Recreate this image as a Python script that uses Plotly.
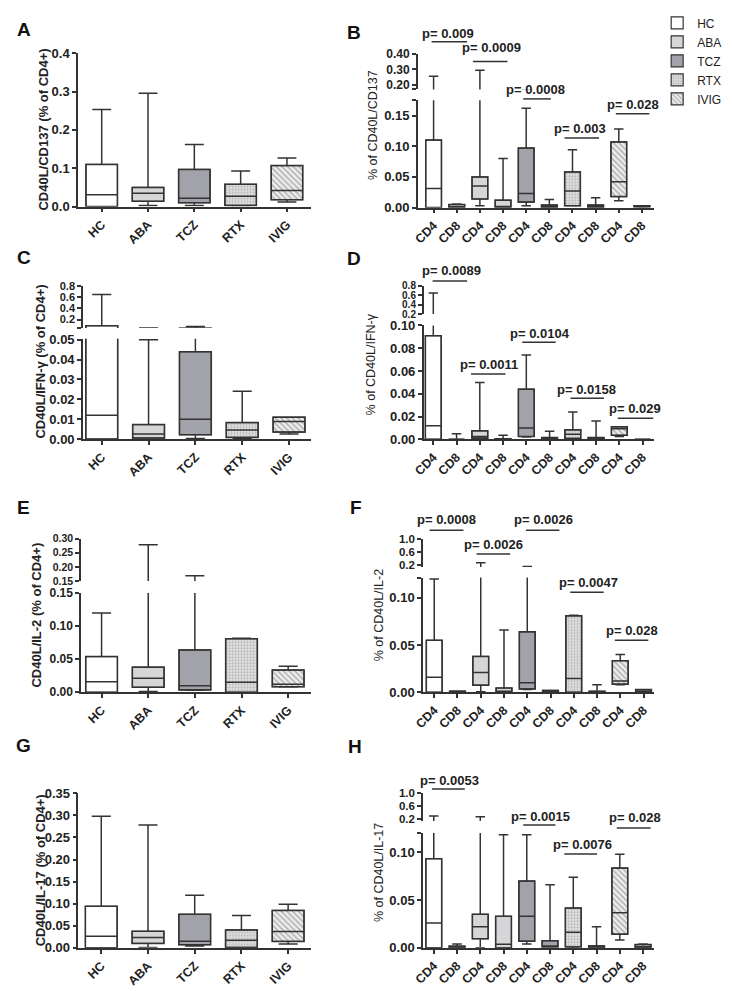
import plotly.graph_objects as go

# the page body keeps its default 8 px margin, so the figure is 8 px smaller
# than the window and every reference pixel is shifted by 8
W, H = 733, 991
OFF = 8
FW, FH = W - OFF, H - OFF

groups = ["HC", "ABA", "TCZ", "RTX", "IVIG"]
cells = ["CD4", "CD8"]

# A: CD40L/CD137 (% of CD4+), one box per group
A_low = [0.0, 0.003, 0.003, 0.002, 0.012]
A_q1 = [0.0, 0.014, 0.010, 0.003, 0.018]
A_med = [0.031, 0.035, 0.022, 0.027, 0.042]
A_q3 = [0.110, 0.050, 0.097, 0.058, 0.107]
A_high = [0.253, 0.296, 0.162, 0.093, 0.127]

# B: % of CD40L/CD137, order HC CD4, HC CD8, ABA CD4, ABA CD8, ...
B_low = [0.0, 0.0, 0.003, 0.0, 0.003, 0.0, 0.003, 0.0, 0.011, 0.0]
B_q1 = [0.0, 0.0, 0.014, 0.0, 0.009, 0.0, 0.003, 0.0, 0.018, 0.001]
B_med = [0.031, 0.001, 0.035, 0.001, 0.023, 0.001, 0.027, 0.001, 0.042, 0.002]
B_q3 = [0.110, 0.005, 0.050, 0.012, 0.097, 0.004, 0.058, 0.004, 0.107, 0.003]
B_high = [0.255, 0.006, 0.295, 0.080, 0.162, 0.013, 0.094, 0.016, 0.128, 0.003]
B_p = ["0.009", "0.0009", "0.0008", "0.003", "0.028"]

# C: CD40L/IFN-γ (% of CD4+)
C_low = [0.0, 0.0005, 0.0003, 0.0003, 0.0025]
C_q1 = [0.0, 0.0005, 0.0022, 0.0008, 0.0035]
C_med = [0.012, 0.0025, 0.010, 0.0045, 0.0088]
C_q3 = [0.091, 0.0073, 0.044, 0.0083, 0.011]
C_high = [0.65, 0.050, 0.075, 0.024, 0.011]

# D: % of CD40L/IFN-γ
D_low = [0.0, 0.0, 0.0005, 0.0, 0.002, 0.0, 0.0003, 0.0, 0.0025, 0.0]
D_q1 = [0.0, 0.0, 0.001, 0.0, 0.0025, 0.0, 0.0008, 0.0, 0.0035, 0.0]
D_med = [0.012, 0.0, 0.0025, 0.0, 0.010, 0.001, 0.0045, 0.001, 0.0092, 0.0]
D_q3 = [0.091, 0.0, 0.0075, 0.0005, 0.044, 0.0015, 0.0083, 0.0015, 0.011, 0.0]
D_high = [0.65, 0.005, 0.050, 0.0035, 0.074, 0.007, 0.024, 0.016, 0.011, 0.0]
D_p = ["0.0089", "0.0011", "0.0104", "0.0158", "0.029"]

# E: CD40L/IL-2 (% of CD4+)
E_low = [0.0, 0.001, 0.003, 0.0, 0.008]
E_q1 = [0.0, 0.0075, 0.0035, 0.0, 0.0085]
E_med = [0.016, 0.021, 0.010, 0.015, 0.012]
E_q3 = [0.054, 0.038, 0.064, 0.081, 0.0335]
E_high = [0.120, 0.278, 0.168, 0.0815, 0.0395]

# F: % of CD40L/IL-2
F_low = [0.0, 0.0, 0.0005, 0.0, 0.003, 0.0, 0.0, 0.0, 0.008, 0.0]
F_q1 = [0.0, 0.0, 0.0075, 0.0, 0.0035, 0.0, 0.0, 0.0, 0.0086, 0.0]
F_med = [0.016, 0.0, 0.021, 0.001, 0.010, 0.001, 0.0145, 0.0, 0.012, 0.001]
F_q3 = [0.055, 0.0012, 0.038, 0.0045, 0.064, 0.002, 0.081, 0.001, 0.0335, 0.0028]
F_high = [0.120, 0.0012, 0.280, 0.066, 0.168, 0.002, 0.0815, 0.008, 0.040, 0.0028]
F_p = ["0.0008", "0.0026", "0.0026", "0.0047", "0.028"]

# G: CD40L/IL-17 (% of CD4+)
G_low = [0.0, 0.001, 0.004, 0.0, 0.0085]
G_q1 = [0.0, 0.010, 0.007, 0.001, 0.0145]
G_med = [0.026, 0.0235, 0.015, 0.017, 0.037]
G_q3 = [0.094, 0.0375, 0.076, 0.0405, 0.0848]
G_high = [0.298, 0.278, 0.119, 0.0735, 0.0985]

# H: % of CD40L/IL-17
H_low = [0.0, 0.0, 0.0, 0.0, 0.004, 0.001, 0.0, 0.0, 0.0082, 0.0]
H_q1 = [0.0, 0.0, 0.0095, 0.0, 0.007, 0.001, 0.001, 0.0, 0.0143, 0.0]
H_med = [0.026, 0.001, 0.022, 0.0037, 0.033, 0.001, 0.0163, 0.001, 0.0367, 0.001]
H_q3 = [0.093, 0.0017, 0.035, 0.033, 0.0697, 0.0075, 0.0415, 0.002, 0.0833, 0.0034]
H_high = [0.300, 0.004, 0.280, 0.118, 0.118, 0.066, 0.0738, 0.022, 0.0976, 0.004]
H_p = ["0.0053", "0.0015", "0.0076", "0.028"]

FONT = "Liberation Sans, Arial, sans-serif"
LINE = "#333333"
BW = 0.68  # box width in category units

FILLS = {
    "HC": dict(color="white"),
    "ABA": dict(color="#d6d6d8"),
    "TCZ": dict(color="#a2a2aa"),
    "RTX": dict(color="#e4e4e4", pattern=dict(shape=".", fgcolor="#8a8a8a", bgcolor="#e6e6e6",
                                              size=3, solidity=0.45)),
    "IVIG": dict(color="#e8e8e8", pattern=dict(shape="\\", fgcolor="#6a6a6a", bgcolor="#ededed",
                                               size=4, solidity=0.35)),
}


def xp(px):
    return (px - OFF) / FW


def yp(py):
    return 1 - (py - OFF) / FH


# segment = (domain px bottom, domain px top), range, tick values, tick labels, tick font size
panels = [
    dict(key="A", stats=(A_low, A_q1, A_med, A_q3, A_high), paired=False,
         xpx=(68, 305), xr=(-0.51, 4.53),
         segs=[((196, 39), (0, 0.4), [0, 0.1, 0.2, 0.3, 0.4], ["0.0", "0.1", "0.2", "0.3", "0.4"], 13)],
         letter=(13, 15), title=("CD40L/CD137 (% of CD4+)", 33, 117.5, True)),
    dict(key="B", stats=(B_low, B_q1, B_med, B_q3, B_high), paired=True,
         xpx=(413, 653), xr=(-0.68, 9.53),
         segs=[((197, 87), (0, 0.175), [0, 0.05, 0.10, 0.15, 0.175], ["0.00", "0.05", "0.10", "0.15", ""], 13),
               ((76, 40), (0.168, 0.40), [0.168, 0.2, 0.3, 0.4], ["", "0.20", "0.30", "0.40"], 12)],
         letter=(348.5, 18), title=("% of CD40L/CD137", 367, 113, False),
         pvals=B_p,
         ppos=[(443.5, 19, 427, 463, 27.3), (488, 33, 469, 504, 47.3), (532, 76, 520, 548, 85.7),
               (578, 116, 562, 597, 125.7), (631, 91.7, 614, 648, 101)]),
    dict(key="C", stats=(C_low, C_q1, C_med, C_q3, C_high), paired=False,
         xpx=(73, 305), xr=(-0.4, 4.48),
         segs=[((434, 331.3), (0, 0.0505), [0, 0.01, 0.02, 0.03, 0.04, 0.05],
                ["0.00", "0.01", "0.02", "0.03", "0.04", "0.05"], 13),
               ((320.2, 277.3), (0.052, 0.8), [0.052, 0.2, 0.4, 0.6, 0.8], ["", "0.2", "0.4", "0.6", "0.8"], 11)],
         letter=(13, 248), title=("CD40L/IFN-γ (% of CD4+)", 30, 355, True)),
    dict(key="D", stats=(D_low, D_q1, D_med, D_q3, D_high), paired=True,
         xpx=(419, 653), xr=(-0.41, 9.5),
         segs=[((434.3, 317.7), (0, 0.1), [0, 0.02, 0.04, 0.06, 0.08, 0.10],
                ["0.00", "0.02", "0.04", "0.06", "0.08", "0.10"], 13),
               ((306, 277.3), (0.2, 0.8), [0.2, 0.4, 0.6, 0.8], ["0.2", "0.4", "0.6", "0.8"], 10)],
         letter=(348.5, 249), title=("% of CD40L/IFN-γ", 365, 358, False),
         pvals=D_p,
         ppos=[(447, 261.7, 428, 463, 272.3), (485, 357.7, 467, 502, 367.3), (537, 325.7, 519, 553, 335),
               (584.7, 383.3, 568, 602, 392.3), (633, 402.3, 616, 652, 412.7)]),
    dict(key="E", stats=(E_low, E_q1, E_med, E_q3, E_high), paired=False,
         xpx=(71, 305), xr=(-0.44, 4.5),
         segs=[((693.3, 591.7), (0, 0.15), [0, 0.05, 0.10, 0.15], ["0.00", "0.05", "0.10", "0.15"], 12),
               ((579.3, 536), (0.15, 0.30), [0.15, 0.20, 0.25, 0.30], ["0.15", "0.20", "0.25", "0.30"], 10.5)],
         letter=(13, 504.5), title=("CD40L/IL-2 (% of CD4+)", 26, 614, True)),
    dict(key="F", stats=(F_low, F_q1, F_med, F_q3, F_high), paired=True,
         xpx=(418.3, 653), xr=(-0.48, 9.46),
         segs=[((693.3, 575.9), (0, 0.1215), [0, 0.05, 0.10, 0.1215], ["0.00", "0.05", "0.10", ""], 13),
               ((565, 536.7), (0.15, 1.0), [0.2, 0.6, 1.0], ["0.2", "0.6", "1.0"], 11.5)],
         letter=(350, 504), title=("% of CD40L/IL-2", 373, 614, False),
         pvals=F_p,
         ppos=[(442.5, 516.7, 425, 459.3, 527.3), (490, 541.7, 472.7, 506.7, 551.7),
               (541, 516.7, 522.7, 556.7, 527.3), (586.3, 581, 567.7, 601.7, 591), (630, 630, 613, 647, 640)]),
    dict(key="G", stats=(G_low, G_q1, G_med, G_q3, G_high), paired=False,
         xpx=(68.3, 305), xr=(-0.49, 4.5),
         segs=[((955, 796.7), (0, 0.35), [0, 0.05, 0.10, 0.15, 0.20, 0.25, 0.30, 0.35],
                ["0.00", "0.05", "0.10", "0.15", "0.20", "0.25", "0.30", "0.35"], 13)],
         letter=(13, 748), title=("CD40L/IL-17 (% of CD4+)", 30, 876, True)),
    dict(key="H", stats=(H_low, H_q1, H_med, H_q3, H_high), paired=True,
         xpx=(418.3, 653), xr=(-0.46, 9.48),
         segs=[((955, 837.3), (0, 0.12), [0, 0.05, 0.10, 0.12], ["0.00", "0.05", "0.10", ""], 13),
               ((825, 796.7), (0.15, 1.0), [0.2, 0.6, 1.0], ["0.2", "0.6", "1.0"], 11.5)],
         letter=(349, 749), title=("% of CD40L/IL-17", 373, 878, False),
         pvals=H_p,
         ppos=[(444.7, 783.3, 427.3, 460.7, 792.3), (538, 820, 520, 552.7, 829.3),
               (580, 849.3, 561.7, 595, 859), (633.8, 821.7, 615, 649.3, 832.3)]),
]

axis_common = dict(showline=True, linecolor=LINE, linewidth=1.6, ticks="outside", ticklen=4,
                   tickwidth=1.6, tickcolor=LINE, showgrid=False, zeroline=False)


def tfont(size):
    return dict(family=FONT, size=size, color="#222", weight="bold")


fig = go.Figure()
layout = {}
annotations = []
shapes = []
nx = ny = 0

for p in panels:
    nx += 1
    xid = "x" if nx == 1 else f"x{nx}"
    yids = []
    for dom, rng, tv, tt, fs in p["segs"]:
        ny += 1
        yid = "y" if ny == 1 else f"y{ny}"
        layout["yaxis" if ny == 1 else f"yaxis{ny}"] = dict(
            domain=[yp(dom[0]), yp(dom[1])], range=list(rng), anchor=xid,
            tickmode="array", tickvals=tv, ticktext=tt, tickfont=tfont(fs), **axis_common)
        yids.append(yid)

    labels = cells * len(groups) if p["paired"] else groups
    layout["xaxis" if nx == 1 else f"xaxis{nx}"] = dict(
        domain=[xp(p["xpx"][0]), xp(p["xpx"][1])], range=list(p["xr"]), anchor=yids[0],
        tickmode="array", tickvals=list(range(len(labels))), ticktext=labels, tickangle=-45,
        tickfont=tfont(12.5), **axis_common)

    low, q1, med, q3, high = p["stats"]
    for yid in yids:
        for g, grp in enumerate(groups):
            idx = [2 * g, 2 * g + 1] if p["paired"] else [g]
            fig.add_trace(go.Bar(
                x=idx, y=[q3[i] - q1[i] for i in idx], base=[q1[i] for i in idx], width=BW,
                xaxis=xid, yaxis=yid, name=grp, legendgroup=grp,
                showlegend=(p["key"] == "A"),
                marker=dict(line=dict(color=LINE, width=1.2), **FILLS[grp]),
                hoverinfo="skip"))
            fig.add_trace(go.Box(
                x=idx, q1=[q1[i] for i in idx], median=[med[i] for i in idx],
                q3=[q3[i] for i in idx], lowerfence=[low[i] for i in idx],
                upperfence=[high[i] for i in idx], width=BW, whiskerwidth=0.6,
                fillcolor="rgba(0,0,0,0)", line=dict(color=LINE, width=1.5),
                boxpoints=False, showlegend=False, xaxis=xid, yaxis=yid, name=grp))

    lx, ly = p["letter"]
    annotations.append(dict(text=p["key"], x=xp(lx), y=yp(ly), xref="paper", yref="paper",
                            showarrow=False, xanchor="center", yanchor="middle",
                            font=dict(family=FONT, size=19, color="#111", weight="bold")))
    ttext, tx, ty, tbold = p["title"]
    annotations.append(dict(text=ttext, x=xp(tx), y=yp(ty), xref="paper", yref="paper",
                            showarrow=False, textangle=-90, xanchor="center", yanchor="middle",
                            font=dict(family=FONT, size=13 if tbold else 12.5, color="#222",
                                      weight="bold" if tbold else "normal")))
    for ptxt, (cx, cy, lx0, lx1, lyy) in zip(p.get("pvals", []), p.get("ppos", [])):
        annotations.append(dict(text="p= " + ptxt, x=xp(cx), y=yp(cy), xref="paper", yref="paper",
                                showarrow=False, xanchor="center", yanchor="middle",
                                font=dict(family=FONT, size=13, color="#222", weight="bold")))
        shapes.append(dict(type="line", xref="paper", yref="paper", x0=xp(lx0), x1=xp(lx1),
                           y0=yp(lyy), y1=yp(lyy), line=dict(color=LINE, width=1.5)))

fig.update_layout(
    width=FW, height=FH, margin=dict(l=0, r=0, t=0, b=0),
    paper_bgcolor="white", plot_bgcolor="rgba(0,0,0,0)",
    barmode="overlay", boxmode="overlay",
    annotations=annotations, shapes=shapes,
    legend=dict(x=xp(656), y=yp(-7), xanchor="left", yanchor="top", tracegroupgap=0,
                font=dict(family=FONT, size=12, color="#222"), bgcolor="rgba(0,0,0,0)"),
    **layout,
)

fig.write_html("out.html")
